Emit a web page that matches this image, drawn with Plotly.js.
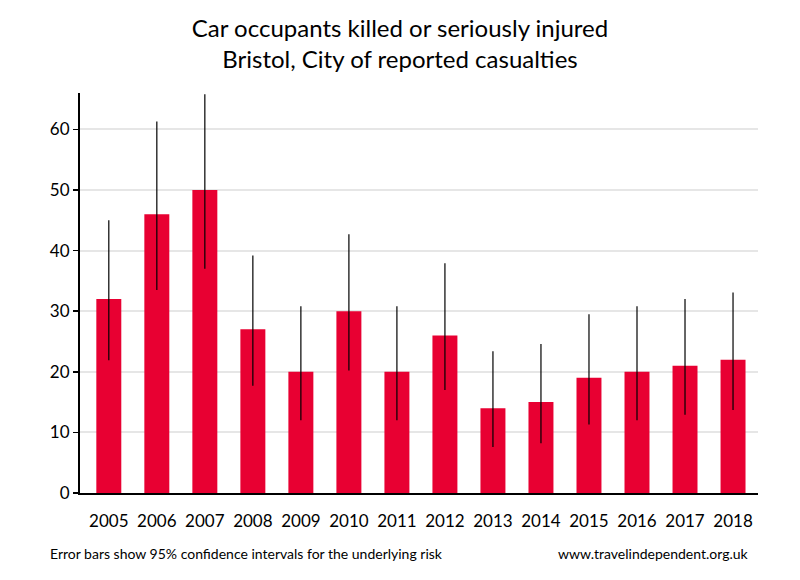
<!DOCTYPE html>
<html>
<head>
<meta charset="utf-8">
<script src="https://cdn.plot.ly/plotly-3.0.1.min.js"></script>
<style>html,body{margin:0;padding:0;background:#fff;}#chart{width:800px;height:580px;}</style>
</head>
<body>
<div id="chart"></div>
<script>
const years = ["2005","2006","2007","2008","2009","2010","2011","2012","2013","2014","2015","2016","2017","2018"];
const casualties = [32, 46, 50, 27, 20, 30, 20, 26, 14, 15, 19, 20, 21, 22];
const ciUpper = [45.0, 61.3, 65.8, 39.2, 30.8, 42.7, 30.8, 37.9, 23.4, 24.6, 29.5, 30.8, 32.0, 33.1];
const ciLower = [21.9, 33.5, 37.0, 17.7, 12.0, 20.2, 12.0, 17.0, 7.6, 8.2, 11.3, 12.0, 12.9, 13.7];

const errPlus = casualties.map((v, i) => ciUpper[i] - v);
const errMinus = casualties.map((v, i) => v - ciLower[i]);

const font = "Lato, 'Open Sans', sans-serif";

const trace = {
  type: 'bar',
  x: years,
  y: casualties,
  width: 0.52,
  marker: {color: '#e80032'},
  error_y: {
    type: 'data',
    symmetric: false,
    array: errPlus,
    arrayminus: errMinus,
    color: '#000000',
    thickness: 1.2,
    width: 0
  },
  hoverinfo: 'x+y'
};

const layout = {
  width: 800,
  height: 580,
  margin: {l: 80, r: 42, t: 93, b: 87},
  paper_bgcolor: '#ffffff',
  plot_bgcolor: '#ffffff',
  showlegend: false,
  title: {
    text: 'Car occupants killed or seriously injured<br>Bristol, City of reported casualties',
    font: {family: font, size: 24, color: '#000'},
    x: 0.5, xanchor: 'center', y: 0.937, yanchor: 'middle'
  },
  xaxis: {
    type: 'category',
    range: [-0.6, 13.52],
    showline: true, linecolor: '#000', linewidth: 2,
    ticks: '', showgrid: false, zeroline: false,
    tickfont: {family: font, size: 17, color: '#000'},
    ticklabelstandoff: 12
  },
  yaxis: {
    range: [0, 66],
    tickvals: [0, 10, 20, 30, 40, 50, 60],
    showline: true, linecolor: '#000', linewidth: 2,
    ticks: 'outside', ticklen: 5, tickwidth: 1.5, tickcolor: '#000',
    showgrid: true, gridcolor: '#e6e6e6', gridwidth: 2,
    zeroline: false,
    tickfont: {family: font, size: 17, color: '#000'}
  },
  annotations: [
    {text: 'Error bars show 95% confidence intervals for the underlying risk', xref: 'paper', yref: 'paper',
     x: -0.047, y: -0.151, xanchor: 'left', yanchor: 'middle', showarrow: false,
     font: {family: font, size: 14, color: '#000'}},
    {text: 'www.travelindependent.org.uk', xref: 'paper', yref: 'paper',
     x: 0.99, y: -0.151, xanchor: 'right', yanchor: 'middle', showarrow: false,
     font: {family: font, size: 14, color: '#000'}}
  ]
};

Plotly.newPlot('chart', [trace], layout, {displayModeBar: false, staticPlot: true});
</script>
</body>
</html>
